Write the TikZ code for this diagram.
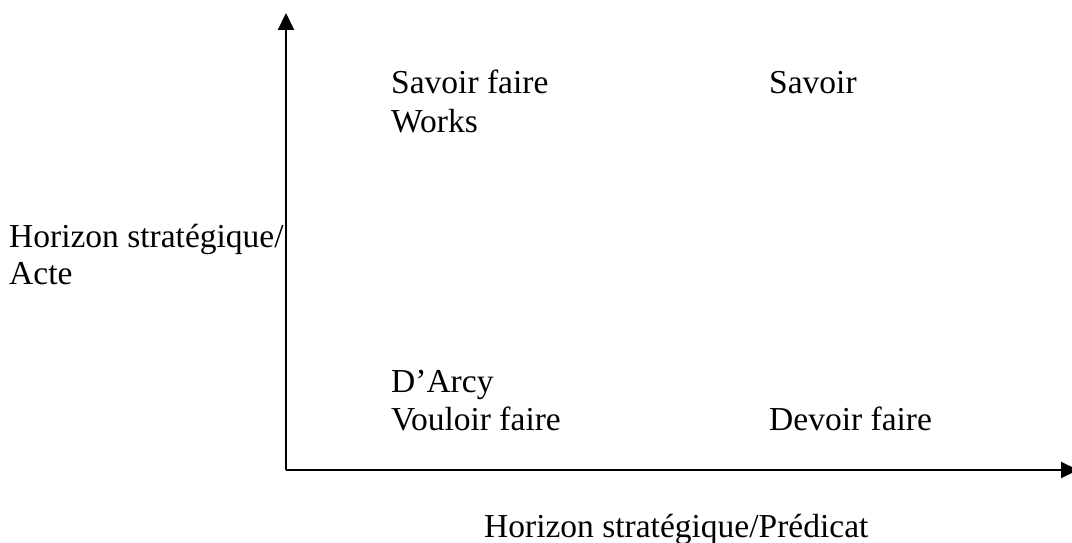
\documentclass[tikz,border=0pt]{standalone}
\usepackage{fontspec}
\setmainfont{Liberation Serif}
\usetikzlibrary{arrows.meta}
\tikzset{
  axis/.style={line width=2.2pt, -{Triangle[length=17pt,width=16pt]}},
  lbl/.style={anchor=base west, inner sep=0pt, font=\fontsize{33.5}{38}\selectfont}
}
\begin{document}
\begin{tikzpicture}[x=1pt,y=-1pt]
  \useasboundingbox (0,0) rectangle (1072,543);
  \clip (0,0) rectangle (1072,543);
  % axes
  \coordinate (o) at (286,470);
  \coordinate (ytip) at (286,13);
  \coordinate (xtip) at (1078,470);
  \draw[axis] (o) -- (ytip);
  \draw[axis] (o) -- (xtip);
  % quadrant labels
  \node[lbl] (sf1) at (391,94) {Savoir faire};
  \node[lbl] (sf2) at (391,132) {Works};
  \node[lbl] (sv) at (769,94) {Savoir};
  \node[lbl] (vf1) at (391,392) {D’Arcy};
  \node[lbl] (vf2) at (391,430) {Vouloir faire};
  \node[lbl] (df) at (769,430) {Devoir faire};
  % axis titles
  \node[lbl] (ya1) at (9,247) {Horizon stratégique/};
  \node[lbl] (ya2) at (9,284) {Acte};
  \node[lbl] (xa) at (484,537) {Horizon stratégique/Prédicat};
\end{tikzpicture}
\end{document}
